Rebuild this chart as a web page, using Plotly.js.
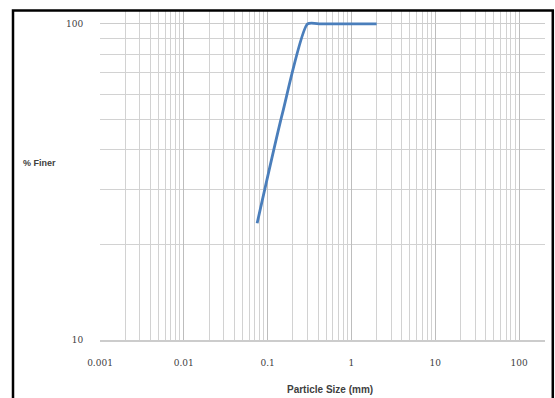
<!DOCTYPE html>
<html>
<head>
<meta charset="utf-8">
<script src="https://cdn.plot.ly/plotly-3.0.1.min.js"></script>
<style>
html,body{margin:0;padding:0;background:#fff;}
#chart{width:555px;height:398px;}
</style>
</head>
<body>
<div id="chart"></div>
<script>
// Data
var particleSize = [0.075, 0.15, 0.3, 0.425, 0.6, 1.18, 2.0];
var percentFiner = [23.4, 52, 100, 100, 100, 100, 100];

var xMajorTicks = [0.001, 0.01, 0.1, 1, 10, 100];
var xTickLabels = ['0.001', '0.01', '0.1', '1', '10', '100'];
var yMajorTicks = [10, 100];
var yTickLabels = ['10', '100'];

var xMinor = [];
[0.001, 0.01, 0.1, 1, 10, 100].forEach(function (d) {
  for (var k = 2; k <= 9; k++) { var v = +(d * k).toPrecision(3); if (v <= 200) xMinor.push(v); }
});
var yMinor = [];
for (var k = 2; k <= 9; k++) yMinor.push(10 * k);

var trace = {
  x: particleSize,
  y: percentFiner,
  type: 'scatter',
  mode: 'lines',
  line: {color: '#4a7ebb', width: 2.8, shape: 'spline', smoothing: 0.6},
  hoverinfo: 'x+y'
};

var tickFont = {family: 'DejaVu Serif, Liberation Serif, serif', size: 9, color: '#404040'};

var layout = {
  width: 555, height: 398,
  margin: {l: 100, r: 10, t: 11, b: 58},
  paper_bgcolor: '#ffffff', plot_bgcolor: '#ffffff',
  showlegend: false,
  xaxis: {
    type: 'log', range: [-3, 2.31],
    tickmode: 'array', tickvals: xMajorTicks, ticktext: xTickLabels,
    tickfont: tickFont,
    ticks: 'outside', ticklen: 14, tickcolor: 'rgba(0,0,0,0)',
    showgrid: true, gridcolor: '#bdbdbd', gridwidth: 1,
    minor: {tickmode: 'array', tickvals: xMinor, showgrid: true, gridcolor: '#d2d2d2', gridwidth: 1, ticks: ''},
    showline: true, linecolor: '#cccccc', linewidth: 1.5,
    zeroline: false, fixedrange: true
  },
  yaxis: {
    type: 'log', range: [1, 2.041],
    tickmode: 'array', tickvals: yMajorTicks, ticktext: yTickLabels,
    tickfont: tickFont,
    ticks: 'outside', ticklen: 14, tickcolor: 'rgba(0,0,0,0)',
    showgrid: true, gridcolor: '#cccccc', gridwidth: 1,
    minor: {tickmode: 'array', tickvals: yMinor, showgrid: true, gridcolor: '#d2d2d2', gridwidth: 1, ticks: ''},
    showline: false, zeroline: false, fixedrange: true
  },
  annotations: [
    {text: '<b>% Finer</b>', xref: 'paper', yref: 'paper', x: -0.178, y: 0.538,
     xanchor: 'left', yanchor: 'middle', showarrow: false,
     font: {family: 'Liberation Sans, Arial, sans-serif', size: 9, color: '#404040'}},
    {text: '<b>Particle Size (mm)</b>', xref: 'paper', yref: 'paper', x: 0.517, y: -0.149,
     xanchor: 'center', yanchor: 'middle', showarrow: false,
     font: {family: 'Liberation Sans, Arial, sans-serif', size: 10, color: '#404040'}}
  ],
  shapes: [
    {type: 'rect', xref: 'paper', yref: 'paper', x0: -0.1955, x1: 1.0175, y0: -0.25, y1: 1.0015,
     line: {color: '#000000', width: 2.5}, fillcolor: 'rgba(0,0,0,0)', layer: 'above'}
  ]
};

Plotly.newPlot('chart', [trace], layout, {displayModeBar: false, staticPlot: true});
</script>
</body>
</html>
